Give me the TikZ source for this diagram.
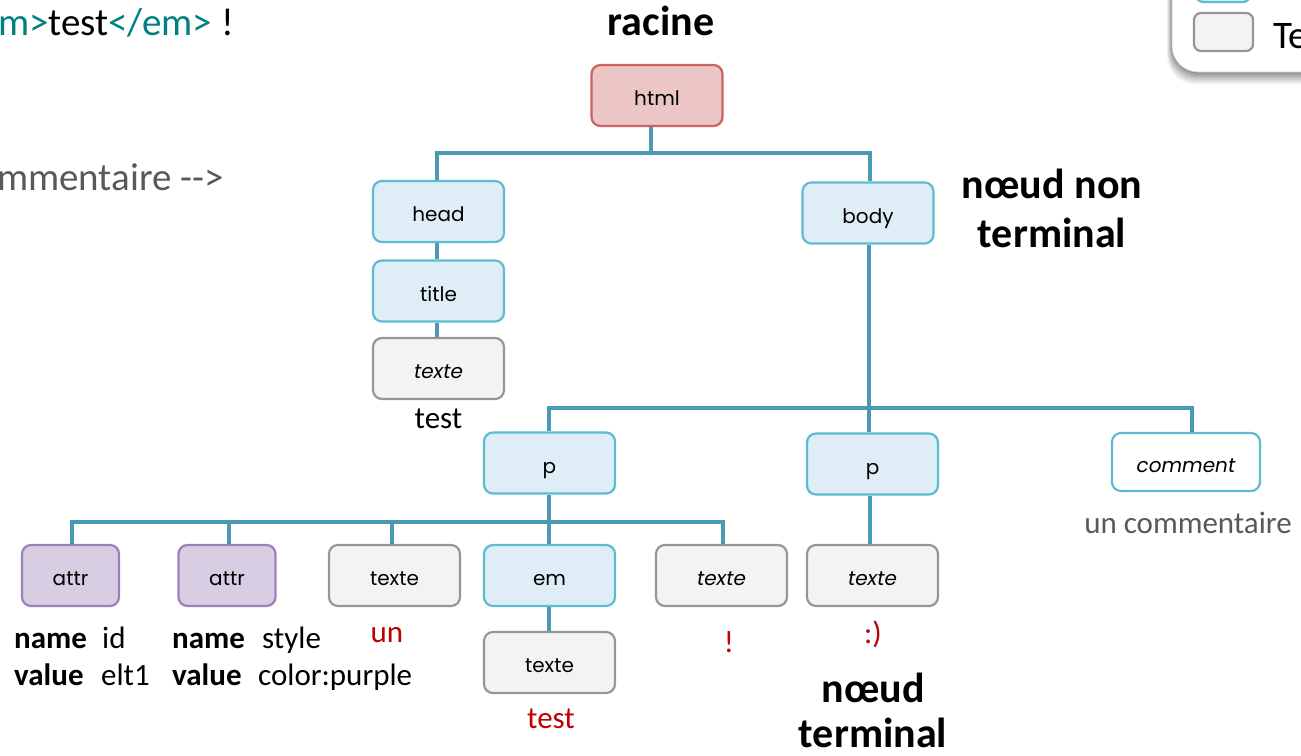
\documentclass[tikz,border=0pt]{standalone}
\usepackage{fontspec}
\setmainfont{Carlito}
\newfontfamily\nodefont{Poppins}
\newcommand\setfs[2]{\fontsize{#1}{#2}\selectfont}

\definecolor{linkcol}{RGB}{72,155,176}
\definecolor{elemfill}{RGB}{223,238,246}
\definecolor{elemline}{RGB}{93,187,210}
\definecolor{rootfill}{RGB}{236,197,197}
\definecolor{rootline}{RGB}{205,99,96}
\definecolor{textfill}{RGB}{243,243,243}
\definecolor{textline}{RGB}{150,150,150}
\definecolor{attrfill}{RGB}{216,206,227}
\definecolor{attrline}{RGB}{157,128,187}
\definecolor{valred}{RGB}{192,0,0}
\definecolor{tagteal}{RGB}{0,128,128}
\definecolor{commentgray}{RGB}{89,89,89}

\begin{document}
\begin{tikzpicture}[x=1pt,y=-1pt,
  box/.style={rounded corners=9pt, minimum width=131pt, minimum height=61pt,
    line width=2.2pt, inner sep=0pt, text height=20pt, text depth=0pt,
    font=\nodefont\setfs{20}{24}},
  elem/.style={box, fill=elemfill, draw=elemline},
  rootbox/.style={box, fill=rootfill, draw=rootline},
  textbox/.style={box, fill=textfill, draw=textline},
  attrbox/.style={box, fill=attrfill, draw=attrline, minimum width=97pt},
  commentbox/.style={box, fill=white, draw=elemline, minimum width=148pt, minimum height=58pt},
  link/.style={draw=linkcol, line width=4pt},
  vallbl/.style={inner sep=0pt, anchor=base, font=\setfs{31}{37}},
  valtext/.style={vallbl, text=valred},
  srclbl/.style={inner sep=0pt, anchor=base east, font=\setfs{39}{46}},
  bigtag/.style={inner sep=0pt, anchor=base, font=\bfseries\setfs{42}{49}},
]
\useasboundingbox (0,0) rectangle (1301,755);

% --- legend panel (top right) ---
\foreach \s/\o in {12/0.06,10/0.07,8/0.08,6/0.09,4/0.10,2/0.12}{
  \fill[black, opacity=\o, rounded corners=28pt]
    (1172-\s*0.4,-60) rectangle (1400,72+\s);
}
\filldraw[fill=white, draw=black!20, line width=0.6pt, rounded corners=26pt]
  (1172,-60) rectangle (1400,72);
\node[box, fill=elemfill, draw=elemline, minimum width=54pt, minimum height=40pt,
  rounded corners=7pt] (legelem) at (1223,-18) {};
\node[box, fill=textfill, draw=textline, minimum width=59pt, minimum height=38pt,
  rounded corners=7pt] (legtext) at (1223.5,32) {};
\node[inner sep=0pt, anchor=base west, font=\setfs{39}{46}] (legtextlbl) at (1273,48) {Texte};

% --- source excerpt (left) ---
\node[srclbl] (src1) at (234,35)
  {{\color{tagteal}<em>}test{\color{tagteal}</em>} !};
\node[srclbl, text=commentgray] (src2) at (224,190)
  {<!-{}- un commentaire -{}->};

% --- tree nodes ---
\node[rootbox] (html) at (657,95.5) {html};
\node[elem] (head) at (438.5,211.5) {head};
\node[elem] (title) at (438.5,291) {title};
\node[textbox] (ttitle) at (438.5,368.5) {\itshape texte};
\node[elem] (body) at (868,213) {body};
\node[elem] (p1) at (549.5,463) {p};
\node[elem] (p2) at (872.5,464) {p};
\node[commentbox] (comment) at (1186,462) {\itshape comment};
\node[attrbox] (attr1) at (70.5,575.5) {attr};
\node[attrbox] (attr2) at (227,575.5) {attr};
\node[textbox] (tun) at (394.5,575.5) {texte};
\node[elem] (em) at (549.5,575.5) {em};
\node[textbox] (texcl) at (721.5,575.5) {\itshape texte};
\node[textbox] (tsmile) at (872.5,575.5) {\itshape texte};
\node[textbox] (ttest) at (549.5,662.5) {texte};

% --- connectors ---
\draw[link] ([xshift=-6pt]html.south) -- ([xshift=-6pt]html.south |- 0,153);
\draw[link] ([xshift=-2pt]head.north) -- ([xshift=-2pt]head.north |- 0,153)
  -- ([xshift=2pt]body.north |- 0,153) -- ([xshift=2pt]body.north);
\draw[link] ([xshift=-2pt]head.south) -- ([xshift=-2pt]title.north);
\draw[link] ([xshift=-2pt]title.south) -- ([xshift=-2pt]ttitle.north);
\draw[link] ([xshift=1pt]body.south) -- ([xshift=1pt]body.south |- p2.north);
\draw[link] ([xshift=-1pt]p1.north) -- ([xshift=-1pt]p1.north |- 0,408)
  -- ([xshift=6pt]comment.north |- 0,408) -- ([xshift=6pt]comment.north);
\draw[link] ([xshift=-1pt]p1.south) -- ([xshift=-1pt]em.north);
\draw[link] ([xshift=1.5pt]attr1.north) -- ([xshift=1.5pt]attr1.north |- 0,522)
  -- ([xshift=1.5pt]texcl.north |- 0,522) -- ([xshift=1.5pt]texcl.north);
\draw[link] ([xshift=2pt]attr2.north) -- ([xshift=2pt]attr2.north |- 0,522);
\draw[link] ([xshift=-2.5pt]tun.north) -- ([xshift=-2.5pt]tun.north |- 0,522);
\draw[link] ([xshift=-1pt]em.south) -- ([xshift=-1pt]ttest.north);
\draw[link] ([xshift=-2.5pt]p2.south) -- ([xshift=-2.5pt]tsmile.north);

% --- values under the nodes ---
\node[vallbl] (vtitle) at (438.5,428) {test};
\node[valtext] (vun) at (387,642) {un};
\node[valtext] (vexcl) at (729,652) {!};
\node[valtext] (vsmile) at (873,643) {:)};
\node[valtext] (vtest) at (551,728) {test};
\node[vallbl, text=commentgray] (vcomment) at (1188,533) {un commentaire};

% --- attribute details ---
\node[vallbl, anchor=base west] (a1n) at (14,648) {\bfseries name};
\node[vallbl, anchor=base west] (a1nv) at (102,648) {id};
\node[vallbl, anchor=base west] (a1v) at (14,685) {\bfseries value};
\node[vallbl, anchor=base west] (a1vv) at (101,685) {elt1};
\node[vallbl, anchor=base west] (a2n) at (172,648) {\bfseries name};
\node[vallbl, anchor=base west] (a2nv) at (262,648) {style};
\node[vallbl, anchor=base west] (a2v) at (172,685) {\bfseries value};
\node[vallbl, anchor=base west] (a2vv) at (258,685) {color:purple};

% --- captions ---
\node[bigtag] (racine) at (661,35) {racine};
\node[bigtag] (nonterm1) at (1052,198) {nœud non};
\node[bigtag] (nonterm2) at (1052,247) {terminal};
\node[bigtag] (term1) at (873,702) {nœud};
\node[bigtag] (term2) at (873,747) {terminal};
\end{tikzpicture}
\end{document}
